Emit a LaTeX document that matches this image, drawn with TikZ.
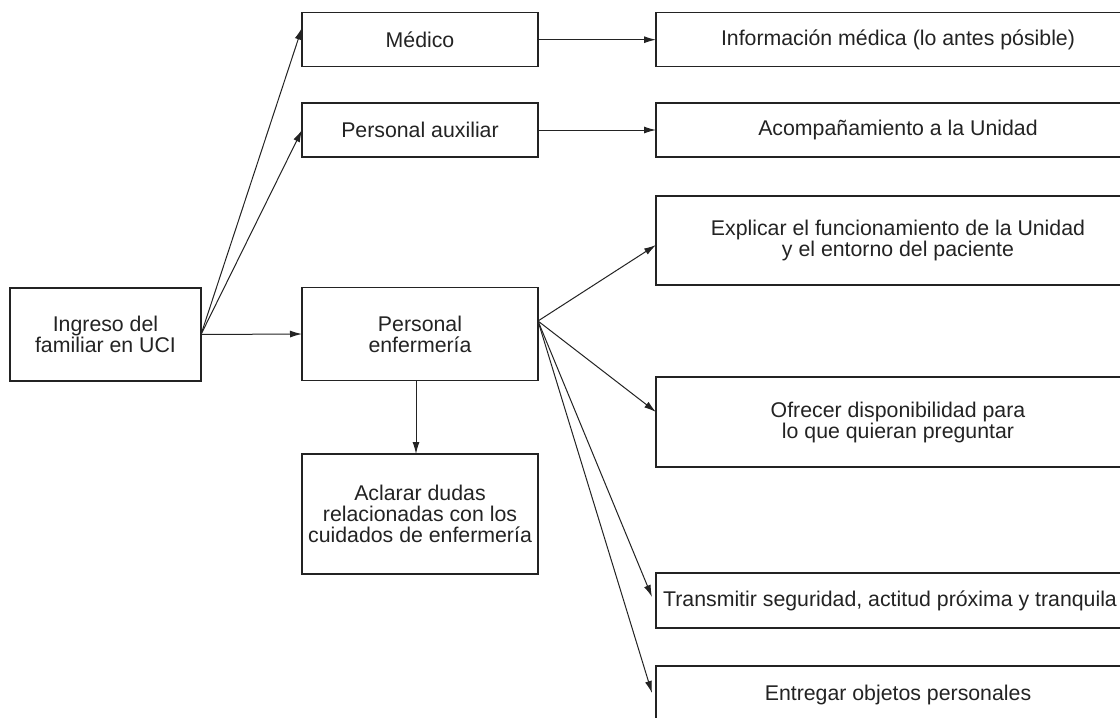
\documentclass[tikz,border=0pt]{standalone}
\usepackage{fontspec}
\setmainfont{Liberation Sans}
\usetikzlibrary{arrows.meta,calc}
\definecolor{ink}{HTML}{232323}
\begin{document}
\begin{tikzpicture}[x=1pt,y=-1pt,
  box/.style={draw=ink,line width=1.2pt,inner sep=0pt,outer sep=0pt,align=center,
    text=ink,font=\fontsize{21.3}{21}\selectfont},
  conn/.style={draw=ink,line width=1pt,-{Latex[length=12pt,width=7pt]}}]
\useasboundingbox (0,0) rectangle (1120,718);
\clip (0,0) rectangle (1120,718);
\fill[white] (0,0) rectangle (1120,718);
% left column
\node[box,minimum width=191,minimum height=93] (ing) at (105.5,334.5) {Ingreso del\\familiar en UCI};
% middle column
\node[box,minimum width=236,minimum height=54] (med) at (420,39.7) {Médico};
\node[box,minimum width=236,minimum height=54] (aux) at (420,130) {Personal auxiliar};
\node[box,minimum width=236,minimum height=93.4] (enf) at (420,334) {Personal\\enfermería};
\node[box,minimum width=236,minimum height=120] (acl) at (420,514) {Aclarar dudas\\relacionadas con los\\cuidados de enfermería};
% right column
\node[box,minimum width=484,minimum height=54] (info) at (898,39.7) {Información médica (lo antes pósible)};
\node[box,minimum width=484,minimum height=54] (acomp) at (898,130) {Acompañamiento a la Unidad};
\node[box,minimum width=484,minimum height=89] (expl) at (898,240.5) {Explicar el funcionamiento de la Unidad\\y el entorno del paciente};
\node[box,minimum width=484,minimum height=90] (ofr) at (898,422) {Ofrecer disponibilidad para\\lo que quieran preguntar};
\node[box,minimum width=468,minimum height=55] (tra) at (890,600.5) {Transmitir seguridad, actitud próxima y tranquila};
\node[box,minimum width=484,minimum height=58] (ent) at (898,695) {Entregar objetos personales};
% connectors
\coordinate (medin) at ($(med.west)+(0,-12)$);
\draw[conn] (ing.east) -- (medin);
\draw[conn] (ing.east) -- (aux.west);
\draw[conn] (ing.east) -- (enf.west);
\draw[conn] (med.east) -- (info.west);
\draw[conn] (aux.east) -- (acomp.west);
\coordinate (fan) at ($(enf.east)+(0,-13)$);
\coordinate (explin) at ($(expl.west)+(0,4.5)$);
\coordinate (ofrin) at ($(ofr.west)+(0,-10)$);
\coordinate (train) at ($(tra.west)+(-4,-3.5)$);
\coordinate (entin) at ($(ent.west)+(-4,-2)$);
\draw[conn] (fan) -- (explin);
\draw[conn] (fan) -- (ofrin);
\draw[conn] (fan) -- (train);
\draw[conn] (fan) -- (entin);
\draw[conn] ($(enf.south)+(-4,0)$) -- ($(acl.north)+(-4,0)$);
\end{tikzpicture}
\end{document}
